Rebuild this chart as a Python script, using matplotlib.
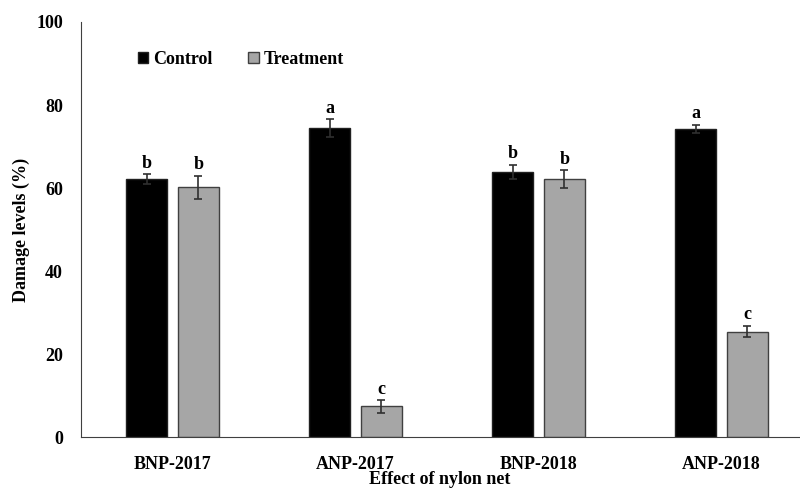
import numpy as np
import matplotlib.pyplot as plt
from matplotlib.patches import Patch

plt.rcParams['font.family'] = ['Liberation Serif', 'DejaVu Serif']
plt.rcParams['font.weight'] = 'bold'

# data
groups = ['BNP-2017', 'ANP-2017', 'BNP-2018', 'ANP-2018']
control = [62.1, 74.5, 63.9, 74.3]
control_err = [1.2, 2.1, 1.7, 1.0]
treatment = [60.2, 7.4, 62.2, 25.4]
treatment_err = [2.8, 1.5, 2.1, 1.4]
control_letters = ['b', 'a', 'b', 'a']
treatment_letters = ['b', 'c', 'b', 'c']

fig = plt.figure(figsize=(8, 4.9), dpi=100)
ax = fig.add_axes([81/800, 1-437/490, 732/800, 415/490])

x = np.arange(len(groups))
w = 0.224
off = 0.142

ax.bar(x - off, control, w, color='black', edgecolor='#202020', linewidth=1, zorder=2)
ax.bar(x + off, treatment, w, color='#a6a6a6', edgecolor='#404040', linewidth=1, zorder=2)
ax.errorbar(x - off, control, yerr=control_err, fmt='none', ecolor='#303030',
            elinewidth=1.2, capsize=3, capthick=1.2, zorder=3)
ax.errorbar(x + off, treatment, yerr=treatment_err, fmt='none', ecolor='#303030',
            elinewidth=1.2, capsize=3, capthick=1.2, zorder=3)

# significance letters
for i in range(len(groups)):
    ax.text(x[i] - off, control[i] + control_err[i] + 0.6, control_letters[i],
            ha='center', va='bottom', fontsize=13, fontweight='bold')
    ax.text(x[i] + off, treatment[i] + treatment_err[i] + 0.6, treatment_letters[i],
            ha='center', va='bottom', fontsize=13, fontweight='bold')

ax.set_xlim(-0.5, 3.5)
ax.set_ylim(0, 100)
ax.set_yticks(range(0, 101, 20))
ax.set_xticks(x)
ax.set_xticklabels(groups)
ax.tick_params(axis='both', length=0, labelsize=13)
ax.tick_params(axis='x', pad=14)
ax.tick_params(axis='y', pad=13)
for lab in ax.get_xticklabels() + ax.get_yticklabels():
    lab.set_fontweight('bold')

ax.spines['top'].set_visible(False)
ax.spines['right'].set_visible(False)
ax.spines['left'].set_color('#404040')
ax.spines['bottom'].set_color('#404040')

ax.set_xlabel('Effect of nylon net', fontsize=13, fontweight='bold', labelpad=0)
ax.xaxis.set_label_coords(0.49, -0.082)
ax.set_ylabel('Damage levels (%)', fontsize=13, fontweight='bold')
ax.yaxis.set_label_coords(-0.07, 0.5)

handles = [Patch(facecolor='black', edgecolor='#202020', label='Control'),
           Patch(facecolor='#a6a6a6', edgecolor='#404040', label='Treatment')]
ax.legend(handles=handles, ncol=2, frameon=False, loc='upper left',
          bbox_to_anchor=(0.055, 0.97), handlelength=0.6, handleheight=0.6,
          handletextpad=0.25, columnspacing=2.0, prop={'weight': 'bold', 'size': 13})

fig.savefig('out.png', dpi=100)
